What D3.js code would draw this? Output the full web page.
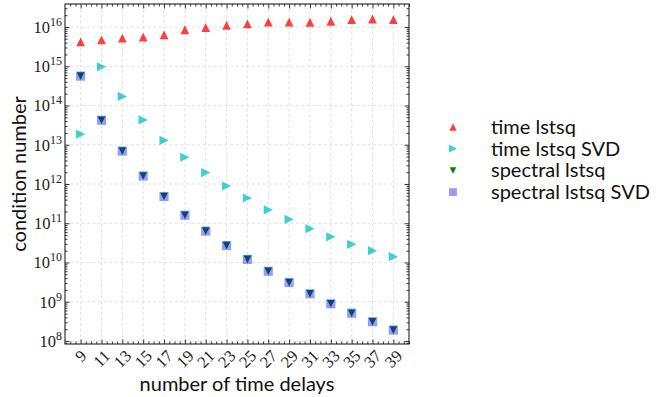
<!DOCTYPE html>
<html>
<head>
<meta charset="utf-8">
<script src="https://cdn.jsdelivr.net/npm/d3@7"></script>
<style>
	body { margin: 0; background: #fff; }
	svg { display: block; }
	.tick-label { font-family: "Liberation Serif", serif; font-size: 16.5px; fill: #222; }
	.axis-label, .legend text { font-family: Lato, sans-serif; font-size: 20px; fill: #111; }
	.axis path { display: none; }
	.axis line { stroke: #222; stroke-width: 0.9; }
	.grid line { stroke: #d9d9d9; stroke-width: 0.8; stroke-dasharray: 3, 2.5; }
</style>
</head>
<body>
<svg id="chart"></svg>
<script>
// number of time delays (x categories)
var delays = [9, 11, 13, 15, 17, 19, 21, 23, 25, 27, 29, 31, 33, 35, 37, 39];

// condition numbers
var timeLstsq = [4.2e15, 4.7e15, 5.2e15, 5.5e15, 6.3e15, 8.5e15, 9.6e15, 1.1e16,
	1.2e16, 1.33e16, 1.33e16, 1.32e16, 1.4e16, 1.54e16, 1.6e16, 1.55e16];
var timeLstsqSvd = [1.86e13, 9.7e14, 1.7e14, 4.3e13, 1.3e13, 4.8e12, 1.95e12, 8.9e11,
	4.4e11, 2.2e11, 1.26e11, 7.3e10, 4.5e10, 2.9e10, 2.0e10, 1.41e10];
var spectralLstsq = [5.6e14, 4.2e13, 6.9e12, 1.6e12, 4.8e11, 1.6e11, 6.3e10, 2.7e10,
	1.2e10, 6.0e9, 3.1e9, 1.6e9, 8.9e8, 5.1e8, 3.1e8, 1.9e8];
var spectralLstsqSvd = [5.6e14, 4.2e13, 6.9e12, 1.6e12, 4.8e11, 1.6e11, 6.3e10, 2.7e10,
	1.2e10, 6.0e9, 3.1e9, 1.6e9, 8.9e8, 5.1e8, 3.1e8, 1.9e8];

// y axis decades (tick labels 10^k)
var decades = [8, 9, 10, 11, 12, 13, 14, 15, 16];

var series = [
	{name: "time lstsq", values: timeLstsq, shape: "up", size: 4.4, color: "red", opacity: 0.75},
	{name: "time lstsq SVD", values: timeLstsqSvd, shape: "right", size: 4.6, color: "#00bfbf", opacity: 0.75},
	{name: "spectral lstsq", values: spectralLstsq, shape: "down", size: 3.8, color: "green", opacity: 1},
	{name: "spectral lstsq SVD", values: spectralLstsqSvd, shape: "square", size: 4.6, color: "blue", opacity: 0.4}
];

function markerPath(shape, s) {
	if (shape === "up") return "M0," + (-s) + "L" + s + "," + s + "L" + (-s) + "," + s + "Z";
	if (shape === "down") return "M0," + s + "L" + s + "," + (-s) + "L" + (-s) + "," + (-s) + "Z";
	if (shape === "right") return "M" + s + ",0L" + (-s) + "," + (-s) + "L" + (-s) + "," + s + "Z";
	return "M" + (-s) + "," + (-s) + "H" + s + "V" + s + "H" + (-s) + "Z";
}

var W = 670, H = 397;
var margin = {top: 4, right: 261, bottom: 53, left: 65},
	width = W - margin.left - margin.right,
	height = H - margin.top - margin.bottom;

var root = d3.select("svg#chart").attr("width", W).attr("height", H);
var svg = root.append("g")
	.attr("transform", "translate(" + margin.left + "," + margin.top + ")");

var x = d3.scaleLinear().domain([7.5, 40.5]).range([0, width]);
var y = d3.scaleLog().domain([Math.pow(10, 7.924), Math.pow(10, 16.586)]).range([height, 0]);

var majorY = decades.map(function (k) { return Math.pow(10, k); });
var minorY = [];
decades.concat([7]).forEach(function (k) {
	for (var m = 2; m < 10; m++) {
		var v = m * Math.pow(10, k);
		if (v > y.domain()[0] && v < y.domain()[1]) minorY.push(v);
	}
});
var minorX = d3.range(16, 82).map(function (i) { return i / 2; })
	.filter(function (v) { return delays.indexOf(v) < 0; });

// grid
var grid = svg.append("g").attr("class", "grid");
grid.selectAll(".gx").data(delays).enter().append("line")
	.attr("x1", function (d) { return x(d); }).attr("x2", function (d) { return x(d); })
	.attr("y1", 0).attr("y2", height);
grid.selectAll(".gy").data(majorY).enter().append("line")
	.attr("y1", function (d) { return y(d); }).attr("y2", function (d) { return y(d); })
	.attr("x1", 0).attr("x2", width);

// inward ticks on all four sides
function addAxis(axis, tx, ty) {
	svg.append("g").attr("class", "axis")
		.attr("transform", "translate(" + tx + "," + ty + ")")
		.call(axis);
}
addAxis(d3.axisBottom(x).tickValues(delays).tickSize(-4.5).tickFormat(""), 0, height);
addAxis(d3.axisBottom(x).tickValues(minorX).tickSize(-2.5).tickFormat(""), 0, height);
addAxis(d3.axisTop(x).tickValues(delays).tickSize(-4.5).tickFormat(""), 0, 0);
addAxis(d3.axisTop(x).tickValues(minorX).tickSize(-2.5).tickFormat(""), 0, 0);
addAxis(d3.axisLeft(y).tickValues(majorY).tickSize(-4.5).tickFormat(""), 0, 0);
addAxis(d3.axisLeft(y).tickValues(minorY).tickSize(-2.5).tickFormat(""), 0, 0);
addAxis(d3.axisRight(y).tickValues(majorY).tickSize(-4.5).tickFormat(""), width, 0);
addAxis(d3.axisRight(y).tickValues(minorY).tickSize(-2.5).tickFormat(""), width, 0);

svg.append("rect")
	.attr("width", width).attr("height", height)
	.attr("fill", "none").attr("stroke", "#222").attr("stroke-width", 1.1);

// y tick labels 10^k
svg.selectAll(".ylab").data(decades).enter().append("text")
	.attr("class", "tick-label")
	.attr("x", -3)
	.attr("y", function (d) { return y(Math.pow(10, d)); })
	.attr("dy", "0.35em")
	.attr("text-anchor", "end")
	.each(function (d) {
		var t = d3.select(this);
		t.append("tspan").text("10");
		t.append("tspan").attr("dy", -7).attr("font-size", "12px").text(d);
	});

// x tick labels rotated 45 degrees, centred under the tick
svg.selectAll(".xlab").data(delays).enter().append("text")
	.attr("class", "tick-label")
	.attr("text-anchor", "middle")
	.attr("dy", "0.35em")
	.text(function (d) { return d; })
	.attr("transform", function (d) {
		var tw = this.getComputedTextLength();
		var off = (tw + 11) * Math.SQRT1_2 / 2;
		return "translate(" + x(d) + "," + (height + 5 + off) + ")rotate(-45)";
	});

// axis labels
svg.append("text").attr("class", "axis-label")
	.attr("text-anchor", "middle")
	.attr("x", width / 2).attr("y", 387)
	.text("number of time delays");
svg.append("text").attr("class", "axis-label")
	.attr("text-anchor", "middle")
	.attr("transform", "translate(-39," + (height / 2) + ")rotate(-90)")
	.text("condition number");

// markers
series.forEach(function (s) {
	svg.append("g").selectAll("path")
		.data(delays.map(function (d, i) { return {x: d, v: s.values[i]}; }))
		.enter().append("path")
		.attr("d", markerPath(s.shape, s.size))
		.attr("transform", function (d) { return "translate(" + x(d.x) + "," + y(d.v) + ")"; })
		.attr("fill", s.color)
		.attr("fill-opacity", s.opacity);
});

// legend
var legend = root.append("g").attr("class", "legend");
var rows = legend.selectAll("g").data(series).enter().append("g")
	.attr("transform", function (d, i) { return "translate(453," + (127 + i * 21.7) + ")"; });
rows.append("path")
	.attr("d", function (d) { return markerPath(d.shape, d.size * 0.85); })
	.attr("fill", function (d) { return d.color; })
	.attr("fill-opacity", function (d) { return d.opacity; });
rows.append("text")
	.attr("x", 38)
	.attr("dy", "0.35em")
	.text(function (d) { return d.name; });
</script>
</body>
</html>
